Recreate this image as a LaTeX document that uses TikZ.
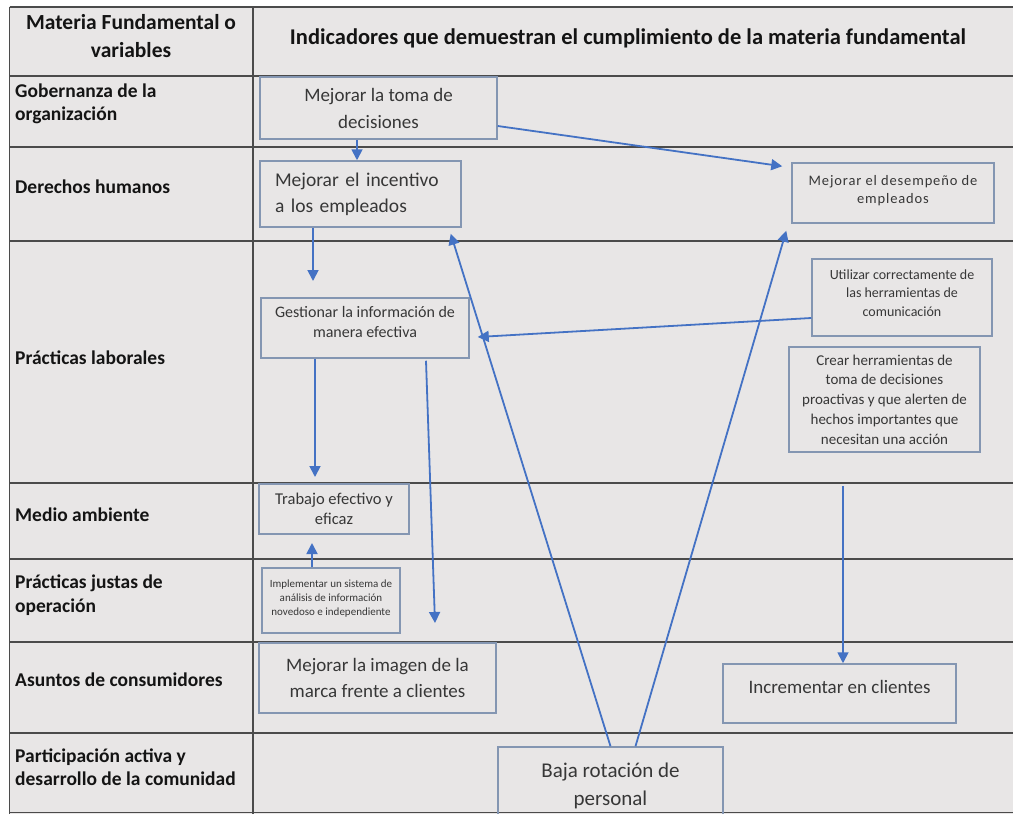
\documentclass[tikz,border=0pt]{standalone}
\usepackage{fontspec}
\setmainfont{Carlito}
\newfontfamily\lsfont[LetterSpace=6]{Carlito}
\usetikzlibrary{arrows.meta,calc}
\definecolor{bgc}{RGB}{232,230,230}
\definecolor{gridc}{RGB}{75,75,75}
\definecolor{boxc}{RGB}{132,150,178}
\definecolor{arrc}{RGB}{68,114,196}
\definecolor{txtc}{RGB}{55,55,55}
\definecolor{lblc}{RGB}{20,20,20}
\newcommand\fsz[2]{\fontsize{#1}{#2}\selectfont}
\newcommand\dpx[1]{\rule[-#1pt]{0pt}{#1pt}}
\begin{document}
\begin{tikzpicture}[x=1pt,y=-1pt,
  bx/.style={draw=boxc,line width=1.5pt,inner sep=0pt,align=center,text=txtc},
  lbl/.style={anchor=west,align=left,text=lblc,inner sep=0pt,font=\bfseries\fsz{19.5}{23.5}},
  arr/.style={draw=arrc,line width=1.8pt,-{Triangle[width=11pt,length=11pt]}},
  gridline/.style={draw=gridc,line width=1.4pt}]
\useasboundingbox (0,0) rectangle (1013,814);
\fill[white] (0,0) rectangle (1013,814);
\begin{scope}
\clip (0,0) rectangle (1013,814);
\fill[bgc] (9.5,6.5) rectangle (1013,820);
\draw[gridline,line width=2pt] (9.5,6.5) -- (1013,6.5);
\draw[gridline] (9.5,6.5) -- (9.5,820);
\draw[gridline] (253,6.5) -- (253,820);
\foreach \yy in {76,147,241,483,559,642,733,812.5}
  \draw[gridline] (9.5,\yy) -- (1013,\yy);

% header
\node[font=\bfseries\fsz{21.5}{28},text=lblc,align=center,inner sep=0pt] (h1) at (131,36) {Materia Fundamental o\\variables};
\node[font=\bfseries\fsz{22.5}{28},text=lblc,inner sep=0pt] (h2) at (628,38) {Indicadores que demuestran el cumplimiento de la materia fundamental};

% row labels
\node[lbl] (r1) at (15,104) {Gobernanza de la\\organización};
\node[lbl] (r2) at (15,187) {Derechos humanos};
\node[lbl] (r3) at (15,358) {Prácticas laborales};
\node[lbl] (r4) at (15,515) {Medio ambiente};
\node[lbl] (r5) at (15,595) {Prácticas justas de\\operación};
\node[lbl] (r6) at (15,680) {Asuntos de consumidores};
\node[lbl] (r7) at (15,767) {Participación activa y\\desarrollo de la comunidad};

% boxes
\node[bx,minimum width=237,minimum height=62,font=\fsz{19}{27}] (toma) at (378.5,108) {Mejorar la toma de\\decisiones};
\node[bx,minimum width=201,minimum height=66,font=\fsz{19.5}{26},align=left,text width=171] (inc) at (360.5,194) {Mejorar el incentivo\\a los empleados};
\node[bx,minimum width=202,minimum height=60,font=\lsfont\fsz{14.5}{18}] (des) at (893,193) {Mejorar el desempeño de\\empleados\dpx{8}};
\node[bx,minimum width=208,minimum height=60,font=\fsz{16}{20}] (ges) at (365,328) {Gestionar la información de\\manera efectiva\dpx{12}};
\node[bx,minimum width=180,minimum height=77,font=\fsz{14}{18.5}] (uti) at (902,297.5) {Utilizar correctamente de\\las herramientas de\\comunicación\dpx{9}};
\node[bx,minimum width=191,minimum height=105,font=\fsz{15}{19.8}] (cre) at (884.5,399.5) {Crear herramientas de\\toma de decisiones\\proactivas y que alerten de\\hechos importantes que\\necesitan una acción};
\node[bx,minimum width=150,minimum height=50,font=\fsz{16.5}{20}] (tra) at (334,509) {Trabajo efectivo y\\eficaz};
\node[bx,minimum width=138,minimum height=65,font=\fsz{11}{14}] (imp) at (331,600.5) {Implementar un sistema de\\análisis de información\\novedoso e independiente\dpx{6}};
\node[bx,minimum width=237,minimum height=70,font=\fsz{19}{26}] (ima) at (377.5,678) {Mejorar la imagen de la\\marca frente a clientes};
\node[bx,minimum width=233,minimum height=59,font=\fsz{19}{23}] (incr) at (839.5,693.5) {Incrementar en clientes\dpx{14}};
\node[bx,minimum width=225,minimum height=88,font=\fsz{21}{28}] (baja) at (610.5,791) {Baja rotación de\\personal\dpx{14}};

% free ends
\coordinate (a3) at (313,281);
\coordinate (a4) at (315,477);
\coordinate (a5) at (435,623);
\coordinate (a6) at (312,543);
\coordinate (a10) at (843,486);

% connectors
\draw[arr] ($(toma.south)+(-21.5,0)$) -- ($(inc.north)+(-3.5,0)$);
\draw[arr] ($(toma.east)+(0,18)$) -- ($(des.north west)+(-9,4)$);
\draw[arr] (inc.south -| a3) -- (a3);
\draw[arr] (ges.south -| a4) -- (a4);
\draw[arr] ($(ges.south)+(61,2)$) -- (a5);
\draw[arr] (imp.north -| a6) -- (a6);
\draw[arr] ($(uti.west)+(0,20.5)$) -- ($(ges.east)+(8,9)$);
\draw[arr] (baja.north) -- ($(inc.south east)+(-11,6)$);
\draw[arr] ($(baja.north)+(25,0)$) -- ($(des.south west)+(-5,7)$);
\draw[arr] (a10) -- (a10 |- incr.north);
\end{scope}
\end{tikzpicture}
\end{document}
